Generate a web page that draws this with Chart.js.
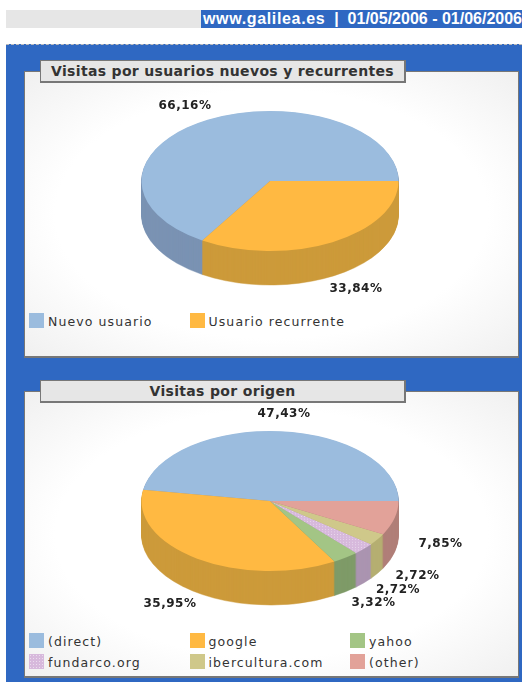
<!DOCTYPE html>
<html>
<head>
<meta charset="utf-8">
<script src="https://cdn.jsdelivr.net/npm/chart.js@4"></script>
<style>
    html, body { margin: 0; padding: 0; background: #fff; }
    body { position: relative; width: 522px; height: 682px; overflow: hidden; font-family: "DejaVu Sans", sans-serif; }
    .top-grey { position: absolute; left: 6px; top: 10px; width: 195px; height: 18px; background: #e6e6e6; }
    .top-site { position: absolute; left: 201px; top: 10px; width: 321px; height: 18px; background: #2f68c2; color: #fff; font: bold 16px/18px "Liberation Sans", sans-serif; white-space: pre; padding-left: 2px; box-sizing: border-box; }
    .top-site b { letter-spacing: .65px; }
    .back { position: absolute; left: 6px; top: 44px; width: 516px; height: 638px; background: #2f68c2; border-top: 1px dashed #bbb; box-sizing: border-box; }
    .panel { position: absolute; left: 24px; width: 495px; box-sizing: border-box; border: 1px solid #777; border-bottom-width: 2px; background: radial-gradient(ellipse at center, #fff 62%, #f0f0f0 100%); }
    .title { position: absolute; left: 40px; width: 366px; height: 23px; box-sizing: border-box; background: #e6e6e6; border: 1px solid #777; border-bottom-width: 2px; border-right-width: 2px; font: bold 14px/20px "DejaVu Sans", sans-serif; color: #333; text-align: center; letter-spacing: .33px; z-index: 3; white-space: nowrap; }
    canvas { position: absolute; z-index: 2; }
    .legend { position: absolute; left: 29px; width: 480px; z-index: 3; display: grid; grid-template-columns: 160.5px 160.5px 150px; row-gap: 6px; font-size: 12.5px; line-height: 15px; letter-spacing: 1.1px; color: #333; }
    .legend span { display: flex; align-items: center; white-space: nowrap; position: relative; top: .5px; }
    .legend i { width: 15px; height: 15px; margin-right: 4px; flex: none; position: relative; top: -.5px; }
</style>
</head>
<body>
<div class="top-grey"></div>
<div class="top-site"><b>www.galilea.es</b>  |  01/05/2006 - 01/06/2006</div>
<div class="back"></div>

<div class="panel" style="top:71px;height:287px"></div>
<div class="title" style="top:60px" id="title1"></div>
<div style="position:absolute;left:24px;top:61px;width:492px;height:240px"><canvas id="pieUsers" width="492" height="240" style="left:0;top:0"></canvas></div>
<div class="legend" style="top:313px" id="legend1"></div>

<div class="panel" style="top:391px;height:287px"></div>
<div class="title" style="top:380px" id="title2"></div>
<div style="position:absolute;left:24px;top:381px;width:492px;height:240px"><canvas id="pieOrigin" width="492" height="240" style="left:0;top:0"></canvas></div>
<div class="legend" style="top:633px" id="legend2"></div>

<script>
const usersTitle = "Visitas por usuarios nuevos y recurrentes";
const usersLabels = ["Nuevo usuario", "Usuario recurrente"];
const usersValues = [66.16, 33.84];
const usersColors = ["#9bbcde", "#ffb942"];
const usersSides = ["#7a93b3", "#cc9a3a"];

const originTitle = "Visitas por origen";
const originLabels = ["(direct)", "google", "yahoo", "fundarco.org", "ibercultura.com", "(other)"];
const originValues = [47.43, 35.95, 3.32, 2.72, 2.72, 7.85];
const originColors = ["#9bbcde", "#ffb942", "#a3c585", "#d7b9dc", "#cfc88a", "#e2a299"];
const originSides = ["#7a93b3", "#cc9a3a", "#7f9b68", "#ab94b0", "#b5af72", "#b07f78"];

// canvas pixel spots for the percent labels (text centres), not data
const usersLabelSpots = [[161, 45], [332, 228]];
const originLabelSpots = [[260, 33], [146, 223], [349.5, 222], [374, 209], [393.5, 195], [416.5, 163]];

function percent(v) {
    return v.toFixed(2).replace(".", ",") + "%";
}

// the reference dithers the lilac slice with little white dots
function dotted(color) {
    const c = document.createElement("canvas");
    c.width = c.height = 3;
    const g = c.getContext("2d");
    g.fillStyle = color;
    g.fillRect(0, 0, 3, 3);
    g.fillStyle = "rgba(255,255,255,.45)";
    g.fillRect(1, 1, 1, 1);
    return g.createPattern(c, "repeat");
}

// squashes the flat pie into an ellipse, flipped so slices run anticlockwise from 3 o'clock
const fakePie3d = {
    id: "fakePie3d",
    beforeDatasetsDraw(chart, args, opts) {
        const { ctx } = chart;
        const arcs = chart.getDatasetMeta(0).data;
        const cx = arcs[0].x, cy = arcs[0].y;
        const squash = opts.squash;
        for (let d = opts.depth; d >= 1; d--) {
            arcs.forEach((arc, i) => {
                ctx.save();
                ctx.translate(cx, cy + d);
                ctx.scale(1, -squash);
                ctx.translate(-cx, -cy);
                ctx.beginPath();
                ctx.moveTo(cx, cy);
                ctx.arc(cx, cy, arc.outerRadius, arc.startAngle, arc.endAngle);
                ctx.closePath();
                ctx.fillStyle = opts.sides[i];
                ctx.strokeStyle = opts.sides[i];
                ctx.lineWidth = 0.6;
                ctx.fill();
                ctx.stroke();
                ctx.restore();
            });
        }
        ctx.save();
        ctx.translate(cx, cy);
        ctx.scale(1, -squash);
        ctx.translate(-cx, -cy);
    },
    afterDatasetsDraw(chart, args, opts) {
        const { ctx } = chart;
        ctx.restore();
        ctx.font = "bold 12px 'DejaVu Sans'";
        ctx.letterSpacing = "0.5px";
        ctx.fillStyle = "#222";
        ctx.textAlign = "center";
        ctx.textBaseline = "middle";
        opts.values.forEach((v, i) => ctx.fillText(percent(v), opts.spots[i][0], opts.spots[i][1]));
    },
};

function drawPie(id, labels, values, colors, sides, spots, radius, squash, depth) {
    const fills = colors.map((c, i) => (labels[i] === "fundarco.org" ? dotted(c) : c));
    new Chart(document.getElementById(id), {
        type: "pie",
        data: { labels, datasets: [{ data: values, backgroundColor: fills, borderWidth: 0, radius }] },
        options: {
            responsive: false,
            animation: false,
            rotation: 90,
            layout: { padding: 0 },
            plugins: {
                legend: { display: false },
                tooltip: { enabled: false },
                fakePie3d: { squash, depth, sides, values, spots },
            },
        },
        plugins: [fakePie3d],
    });
}

function fillLegend(id, labels, colors) {
    document.getElementById(id).innerHTML = labels
        .map((l, i) => {
            const dots = l === "fundarco.org" ? "radial-gradient(circle, rgba(255,255,255,.5) 0 .7px, transparent .8px) 0 0/3px 3px," : "";
            return `<span><i style="background:${dots}${colors[i]}"></i>${l}</span>`;
        })
        .join("");
}

document.getElementById("title1").textContent = usersTitle;
document.getElementById("title2").textContent = originTitle;
fillLegend("legend1", usersLabels, usersColors);
fillLegend("legend2", originLabels, originColors);
drawPie("pieUsers", usersLabels, usersValues, usersColors, usersSides, usersLabelSpots, 128.5, 0.545, 34);
drawPie("pieOrigin", originLabels, originValues, originColors, originSides, originLabelSpots, 128.5, 0.545, 34);
</script>
</body>
</html>
